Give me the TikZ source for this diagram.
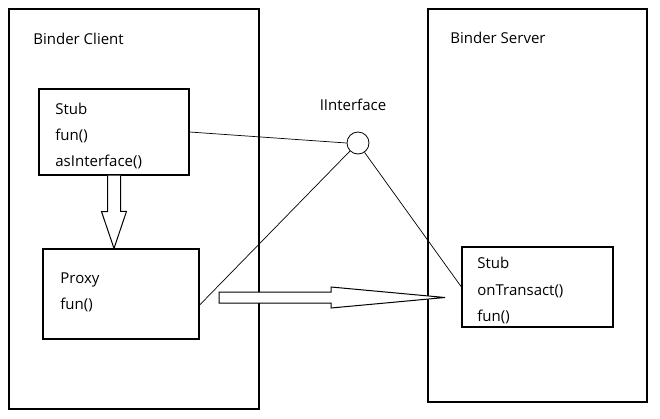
\documentclass[tikz,border=0pt]{standalone}
\usepackage{fontspec}
\setmainfont{Open Sans}
\usepackage{tikz}
\usetikzlibrary{positioning}

\begin{document}
\begin{tikzpicture}[x=1pt,y=-1pt,thick,
    box/.style={draw,line width=1.2pt,inner sep=0pt},
    txt/.style={anchor=base west,inner sep=0pt,font=\fontsize{15}{18}\selectfont},
    link/.style={draw,line width=0.7pt},
    hollow/.style={draw,line width=1pt,fill=white}]

    \useasboundingbox (0,0) rectangle (660,418);

    % The two sides
    \node [box,minimum width=250pt,minimum height=400pt] at (134,209) (client) {};
    \node [box,minimum width=219pt,minimum height=393pt] at (537.5,205.5) (server) {};
    \node [txt] at (33,44) (clientlbl) {Binder Client};
    \node [txt] at (450,43) (serverlbl) {Binder Server};

    % Client side boxes
    \node [box,minimum width=150pt,minimum height=86pt] at (114,132) (cstub) {};
    \node [txt] at (55,114) (cstub1) {Stub};
    \node [txt] at (55,140) (cstub2) {fun()};
    \node [txt] at (55,166) (cstub3) {asInterface()};

    \node [box,minimum width=156pt,minimum height=90pt] at (121,294) (proxy) {};
    \node [txt] at (60,283) (proxy1) {Proxy};
    \node [txt] at (60,309) (proxy2) {fun()};

    % Server side box
    \node [box,minimum width=151pt,minimum height=80pt] at (537.5,287) (sstub) {};
    \node [txt] at (477,268) (sstub1) {Stub};
    \node [txt] at (477,295) (sstub2) {onTransact()};
    \node [txt] at (477,321) (sstub3) {fun()};

    % The interface
    \node [draw,line width=0.8pt,circle,minimum size=22pt,inner sep=0pt] at (358,143) (iface) {};
    \node [txt,anchor=base] at (353,110) (ifacelbl) {IInterface};

    % Interface lines
    \path[link]
    (cstub.east) -- (iface.west)
    (proxy.-8) -- (iface.225)
    (iface.-55) -- (sstub.west);

    % Hollow arrows
    \coordinate (dtail) at (cstub.south);
    \coordinate (dtip) at (proxy.north -| dtail);
    \draw[hollow] ([xshift=-6.5pt]dtail) -- ++(0,36) -- ++(-6,0)
        -- (dtip) -- ++(12.5,-37) -- ++(-6,0) -- ([xshift=6.5pt]dtail);

    \coordinate (rtail) at (219,297.5);
    \coordinate (rtip) at (445,297.5);
    \draw[hollow] ([yshift=5.5pt]rtail) -- ++(112,0) -- ++(0,-5)
        -- (rtip) -- ++(-114,10.5) -- ++(0,-5)
        -- ([yshift=-5.5pt]rtail) -- cycle;

\end{tikzpicture}
\end{document}
